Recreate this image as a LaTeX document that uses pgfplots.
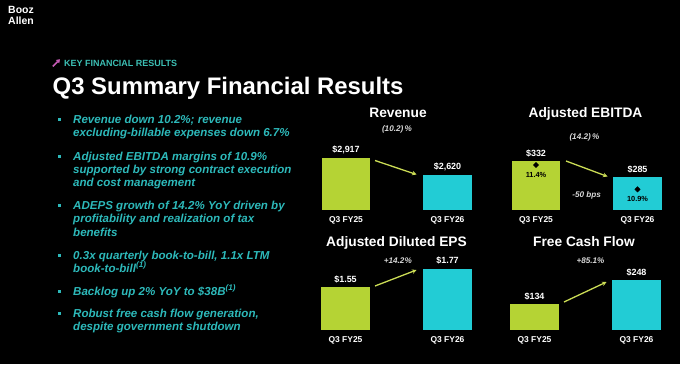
\documentclass[border=0pt]{standalone}
\usepackage{pgfplots}
\pgfplotsset{compat=1.18}
\usepackage{fontspec}
\setmainfont{Liberation Sans}
\usetikzlibrary{arrows.meta}
\definecolor{barlime}{HTML}{B5D334}
\definecolor{barcyan}{HTML}{22CCD5}
\definecolor{arrowlime}{HTML}{CBDC55}
\definecolor{bultxt}{HTML}{2DB9BA}
\definecolor{headteal}{HTML}{3CBFB4}
\definecolor{magentaA}{HTML}{C55BB5}
\definecolor{subgray}{HTML}{D8D8D8}
\pgfplotsset{
  panelbase/.style={anchor=south west, scale only axis, xmin=-0.5, xmax=1.5,
    axis line style={draw=none}, major tick length=0pt, ytick=\empty},
  panel/.style={panelbase, ybar, bar width=48.5bp, bar shift=0pt,
    xtick={0,1}, xticklabels={Q3 FY25,Q3 FY26},
    xticklabel style={font=\bfseries\fontsize{8.5}{10}\selectfont, text=white, anchor=base, inner sep=0pt, yshift=-12.3bp},
    nodes near coords, point meta=explicit symbolic,
    every node near coord/.append style={font=\bfseries\fontsize{9}{10}\selectfont, text=white, anchor=base, inner sep=0pt, yshift=5bp}},
}
\newcommand\bl[2]{\node[anchor=base west, inner sep=0pt, text=bultxt, font=\bfseries\itshape\fontsize{11.6}{13}\selectfont] at (73,#1) {#2};}
\newcommand\bsq[1]{\fill[bultxt] (57.5,#1-1.5) rectangle (60.5,#1+1.5);}
\newcommand\sub[3]{\node[anchor=base, inner sep=0pt, text=subgray, font=\bfseries\itshape\fontsize{8.2}{10}\selectfont] at (#1,#2) {#3};}
\newcommand\ttl[3]{\node[anchor=base, inner sep=0pt, text=white, font=\bfseries\fontsize{13.8}{16}\selectfont] at (#1,#2) {#3};}
\begin{document}
\begin{tikzpicture}[x=1bp,y=1bp]
\fill[black] (0,0) rectangle (680,364);
% logo
\node[anchor=base west, inner sep=0pt, text=white, font=\bfseries\fontsize{10.5}{11}\selectfont] at (8,350.7) {Booz};
\node[anchor=base west, inner sep=0pt, text=white, font=\bfseries\fontsize{10.5}{11}\selectfont] at (8,340) {Allen};
% header
\draw[magentaA, line width=1.6bp, -{Triangle[length=3.5bp,width=4.5bp]}] (52.8,297.6) -- (60,304.8);
\node[anchor=base west, inner sep=0pt, text=headteal, font=\bfseries\fontsize{9}{10}\selectfont] at (64,297.3) {KEY FINANCIAL RESULTS};
\node[anchor=base west, inner sep=0pt, text=white, font=\bfseries\fontsize{24}{28}\selectfont] at (52.5,270) {Q3 Summary Financial Results};
% bullets
\bsq{244.7}\bl{240.7}{Revenue down 10.2\%; revenue}
\bl{227.3}{excluding-billable expenses down 6.7\%}
\bsq{208}\bl{204}{Adjusted EBITDA margins of 10.9\%}
\bl{190.7}{supported by strong contract execution}
\bl{177.3}{and cost management}
\bsq{158.7}\bl{154.7}{ADEPS growth of 14.2\% YoY driven by}
\bl{141.3}{profitability and realization of tax}
\bl{128}{benefits}
\bsq{109}\bl{105}{0.3x quarterly book-to-bill, 1.1x LTM}
\bl{91.7}{book-to-bill\textsuperscript{(1)}}
\bsq{73}\bl{69}{Backlog up 2\% YoY to \$38B\textsuperscript{(1)}}
\bsq{50.7}\bl{46.7}{Robust free cash flow generation,}
\bl{33.3}{despite government shutdown}
% titles
\ttl{398}{246.7}{Revenue}
\ttl{585.5}{246.5}{Adjusted EBITDA}
\ttl{396.5}{117.3}{Adjusted Diluted EPS}
\ttl{584}{117.3}{Free Cash Flow}
\sub{397}{232.5}{(10.2)\,\%}
\sub{584.5}{224.5}{(14.2)\,\%}
\sub{586.7}{167}{-50 bps}
\sub{397.8}{100.7}{+14.2\%}
\sub{590.5}{100.7}{+85.1\%}
% Revenue
\begin{axis}[panel, at={(295.25bp,154bp)}, width=203bp, height=60bp, ymin=2000, ymax=3050]
\addplot[fill=barlime, draw=none] coordinates {(0,2917) [{\$2,917}]};
\addplot[fill=barcyan, draw=none] coordinates {(1,2620) [{\$2,620}]};
\end{axis}
% EBITDA
\begin{axis}[panel, at={(485.25bp,154bp)}, width=203bp, height=60bp, ymin=188, ymax=364.4]
\addplot[fill=barlime, draw=none] coordinates {(0,332) [{\$332}]};
\addplot[fill=barcyan, draw=none] coordinates {(1,285) [{\$285}]};
\end{axis}
% EBITDA margin
\begin{axis}[panelbase, at={(485.25bp,154bp)}, width=203bp, height=60bp, ymin=10.474, ymax=11.709, xtick=\empty,
  nodes near coords, point meta=explicit symbolic,
  every node near coord/.append style={font=\bfseries\fontsize{7.4}{9}\selectfont, text=black, anchor=base, inner sep=0pt, yshift=-12.5bp}]
\addplot[only marks, mark=square*, mark size=1.9bp, mark options={fill=black, draw=black, rotate=45}] coordinates {(0,11.4) [{11.4\%}] (1,10.9) [{10.9\%}]};
\end{axis}
% EPS
\begin{axis}[panel, at={(294.5bp,34bp)}, width=204bp, height=70bp, ymin=1.0244, ymax=1.880]
\addplot[fill=barlime, draw=none] coordinates {(0,1.55) [{\$1.55}]};
\addplot[fill=barcyan, draw=none] coordinates {(1,1.77) [{\$1.77}]};
\end{axis}
% FCF
\begin{axis}[panel, at={(483.5bp,34bp)}, width=204bp, height=70bp, ymin=10.5, ymax=343]
\addplot[fill=barlime, draw=none] coordinates {(0,134) [{\$134}]};
\addplot[fill=barcyan, draw=none] coordinates {(1,248) [{\$248}]};
\end{axis}
% arrows
\draw[arrowlime, line width=1.3bp, -{Stealth[length=4.5bp,width=4.5bp]}] (375,203.5) -- (416.5,189.5);
\draw[arrowlime, line width=1.3bp, -{Stealth[length=4.5bp,width=4.5bp]}] (566,203) -- (607.5,187.5);
\draw[arrowlime, line width=1.3bp, -{Stealth[length=4.5bp,width=4.5bp]}] (375,78) -- (416.5,94);
\draw[arrowlime, line width=1.3bp, -{Stealth[length=4.5bp,width=4.5bp]}] (564,62) -- (606.5,82);
\pgfresetboundingbox
\useasboundingbox (0,0) rectangle (680,364);
\end{tikzpicture}
\end{document}
